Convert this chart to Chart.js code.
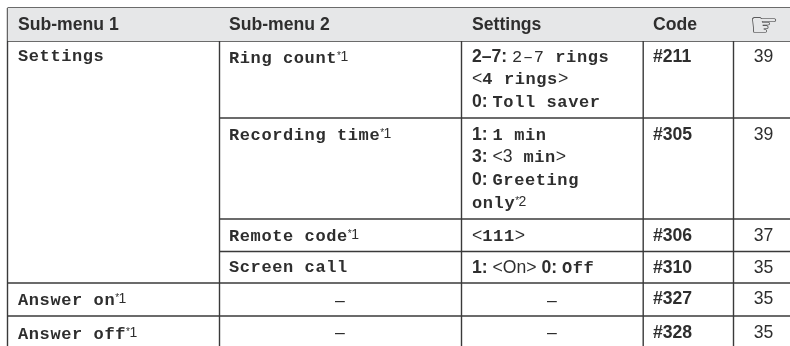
<!DOCTYPE html>
<html>
<head>
<meta charset="utf-8">
<style>
  html, body { margin: 0; padding: 0; background: #fff; }
  canvas { display: block; }
</style>
<script src="https://cdn.jsdelivr.net/npm/chart.js@4"></script>
</head>
<body>
<canvas id="menu-table" width="790" height="346"></canvas>
<script>
// Table content, one list per column
const columnHeaders = ["Sub-menu 1", "Sub-menu 2", "Settings", "Code", "\u261E"];
const subMenu1 = ["Settings", "Answer on*1", "Answer off*1"];
const subMenu2 = ["Ring count*1", "Recording time*1", "Remote code*1", "Screen call"];
const settingLines = [
  "2–7: 2–7 rings", "<4 rings>", "0: Toll saver",
  "1: 1 min", "3: <3 min>", "0: Greeting", "only*2",
  "<111>",
  "1: <On> 0: Off"
];
const codes = ["#211", "#305", "#306", "#310", "#327", "#328"];
const pages = ["39", "39", "37", "35", "35", "35"];
const emptyMark = "–";

// Layout, in page pixels: the scales below run 0-790 and 0-346
const colEdges = [7.5, 219.5, 461.5, 643.2, 733.5, 790];
const rowEdges = [8, 41, 118, 219, 251.5, 283, 316, 346];
const subMenu1Baselines = [61, 305, 339];
const subMenu2Baselines = [63, 140, 241, 272];
const settingBaselines = [62, 84, 107, 140, 162, 185, 208, 241, 273];
const codeBaselines = [62, 140, 241, 273, 304, 338];
const pageBaselines = [62, 140, 241, 273, 304, 338];
const dashBaselines = [306, 338];

const inkColor = "#2e2e2e";
const ruleColor = "#3a3a3a";
const headerFill = "#e6e7e8";
const sansBold = "bold 17.6px 'Liberation Sans'";
const sansPlain = "17.6px 'Liberation Sans'";
const monoBold = "bold 17px 'Liberation Mono'";
const monoPlain = "17px 'Liberation Mono'";
const monoSpacing = "0.6px";

function ruleDataset(x1, y1, x2, y2) {
  return {
    data: [{ x: x1, y: y1 }, { x: x2, y: y2 }],
    showLine: true,
    borderColor: ruleColor,
    borderWidth: 1.4,
    pointRadius: 0
  };
}

function buildDatasets() {
  const top = rowEdges[0];
  const headerBottom = rowEdges[1];
  const bottom = rowEdges[rowEdges.length - 1];
  const right = colEdges[colEdges.length - 1];

  const datasets = [{
    data: [{ x: colEdges[0], y: top }, { x: right, y: top }],
    showLine: true,
    borderWidth: 0,
    pointRadius: 0,
    backgroundColor: headerFill,
    fill: { value: headerBottom }
  }];

  // full width rules
  [0, 1, 5, 6].forEach(i => {
    datasets.push(ruleDataset(colEdges[0], rowEdges[i], right, rowEdges[i]));
  });
  // rules that only start at the second column, Settings spans those rows
  [2, 3, 4].forEach(i => {
    datasets.push(ruleDataset(colEdges[1], rowEdges[i], right, rowEdges[i]));
  });
  colEdges.slice(0, 5).forEach(x => {
    datasets.push(ruleDataset(x, top, x, bottom));
  });
  return datasets;
}

// splits a cell line into bold keys, thin pieces, footnote marks and mono text
function splitRuns(line) {
  const pattern = /(\d(?:–\d)?: ?)|(\*\d)|(<On> ?|<3|[<>])|(2–7)/g;
  const runs = [];
  let last = 0;
  let match;
  while ((match = pattern.exec(line))) {
    if (match.index > last) runs.push({ kind: "mono", text: line.slice(last, match.index) });
    if (match[1]) runs.push({ kind: "key", text: match[1] });
    if (match[2]) runs.push({ kind: "note", text: match[2] });
    if (match[3]) runs.push({ kind: "thin", text: match[3] });
    if (match[4]) runs.push({ kind: "monoThin", text: match[4] });
    last = pattern.lastIndex;
  }
  if (last < line.length) runs.push({ kind: "mono", text: line.slice(last) });
  return runs;
}

function drawLine(ctx, line, x, y) {
  splitRuns(line).forEach(run => {
    ctx.letterSpacing = "0px";
    if (run.kind === "note") {
      ctx.font = "10px 'Liberation Sans'";
      ctx.fillText(run.text[0], x, y - 4);
      x += ctx.measureText(run.text[0]).width - 0.5;
      ctx.font = "14px 'Liberation Sans'";
      ctx.fillText(run.text[1], x, y - 2);
      x += ctx.measureText(run.text[1]).width;
      return;
    }
    if (run.kind === "key") ctx.font = sansBold;
    if (run.kind === "thin") ctx.font = sansPlain;
    if (run.kind === "mono" || run.kind === "monoThin") {
      ctx.font = run.kind === "mono" ? monoBold : monoPlain;
      ctx.letterSpacing = monoSpacing;
    }
    ctx.fillText(run.text, x, y);
    x += ctx.measureText(run.text).width;
  });
  ctx.letterSpacing = "0px";
}

const tableText = {
  id: "tableText",
  afterDatasetsDraw(chart) {
    const { ctx, scales } = chart;
    const px = v => scales.x.getPixelForValue(v);
    const py = v => scales.y.getPixelForValue(v);
    const inset = [10.5, 9.5, 10.5, 9.8];

    ctx.save();
    ctx.fillStyle = inkColor;
    ctx.textBaseline = "alphabetic";
    ctx.textAlign = "left";

    ctx.font = sansBold;
    columnHeaders.slice(0, 4).forEach((label, i) => {
      ctx.fillText(label, px(colEdges[i] + inset[i]), py(30));
    });
    ctx.textAlign = "center";
    ctx.font = "33px 'DejaVu Sans'";
    ctx.fillText(columnHeaders[4], px(764), py(36));
    ctx.textAlign = "left";

    subMenu1.forEach((line, i) => drawLine(ctx, line, px(colEdges[0] + inset[0]), py(subMenu1Baselines[i])));
    subMenu2.forEach((line, i) => drawLine(ctx, line, px(colEdges[1] + inset[1]), py(subMenu2Baselines[i])));
    settingLines.forEach((line, i) => drawLine(ctx, line, px(colEdges[2] + inset[2]), py(settingBaselines[i])));

    ctx.font = sansBold;
    codes.forEach((code, i) => ctx.fillText(code, px(colEdges[3] + inset[3]), py(codeBaselines[i])));

    ctx.font = sansPlain;
    ctx.textAlign = "center";
    pages.forEach((page, i) => ctx.fillText(page, px(763.5), py(pageBaselines[i])));
    dashBaselines.forEach(y => {
      ctx.fillText(emptyMark, px(340), py(y));
      ctx.fillText(emptyMark, px(552), py(y));
    });
    ctx.restore();
  }
};

new Chart(document.getElementById("menu-table").getContext("2d"), {
  type: "scatter",
  data: { datasets: buildDatasets() },
  options: {
    responsive: false,
    animation: false,
    layout: { padding: 0 },
    plugins: {
      legend: { display: false },
      tooltip: { enabled: false }
    },
    scales: {
      x: { type: "linear", display: false, min: 0, max: 790 },
      y: { type: "linear", display: false, min: 0, max: 346, reverse: true }
    }
  },
  plugins: [tableText]
});
</script>
</body>
</html>
